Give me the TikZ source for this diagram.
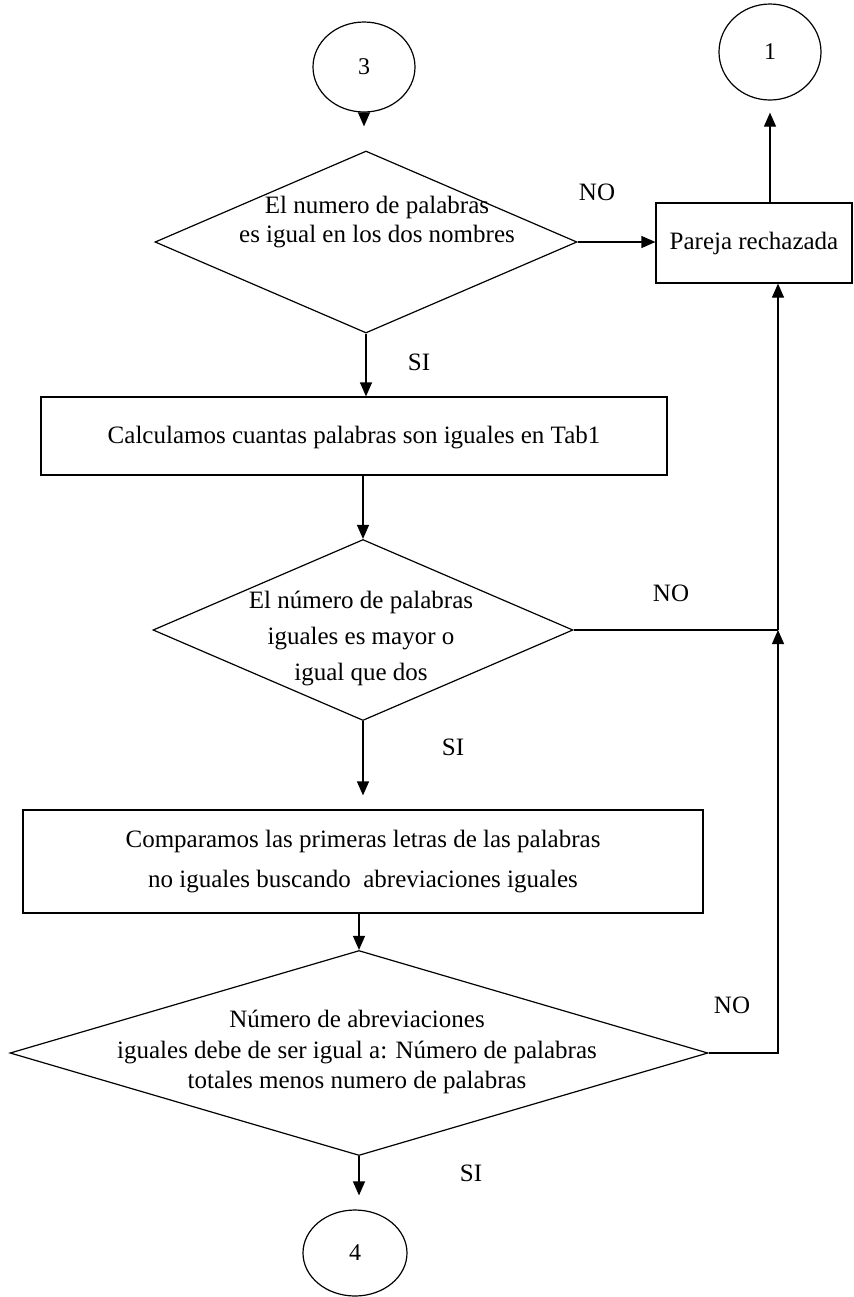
\documentclass[tikz,border=0pt]{standalone}
\usepackage{fontspec}
\setmainfont{Liberation Serif}
\usetikzlibrary{shapes.geometric,arrows.meta}

\begin{document}
\begin{tikzpicture}[x=0.5pt,y=-0.5pt,line width=0.6pt,>={Triangle[length=7pt,width=6pt]}]
  \tikzstyle{conector}=[ellipse,draw,inner sep=0pt,font=\fontsize{12}{14}\selectfont]
  \tikzstyle{proceso}=[rectangle,draw,inner sep=0pt,align=center]
  \tikzstyle{decision}=[diamond,draw,inner sep=0pt]
  \tikzstyle{texto}=[align=center,inner sep=0pt]
  \tikzstyle{etiqueta}=[inner sep=0pt]

  \useasboundingbox (0,0) rectangle (854,1297);
  \fontsize{12.5}{15}\selectfont

  % conectores de pagina
  \foreach \name/\x/\y/\w/\h/\text in {c3/364/67/51/45/3, c1/770/52/51/48/1, c4/355/1253/52/43/4}
    \node[conector,minimum width=\w pt,minimum height=\h pt] (\name) at (\x,\y) {\text};

  % rombos de decision y su texto
  \node[decision,minimum width=211pt,minimum height=91pt] (d1) at (366,242) {};
  \node[texto,font=\fontsize{12.5}{14.5}\selectfont] (t1) at (377,222) {El numero de palabras\\es igual en los dos nombres};
  \node[decision,minimum width=210pt,minimum height=90.5pt] (d2) at (363,630) {};
  \node[texto,font=\fontsize{12.5}{18}\selectfont] (t2) at (361,638) {El número de palabras\\iguales es mayor o\\igual que dos};
  \node[decision,minimum width=349pt,minimum height=102.5pt] (d3) at (359,1053) {};
  \node[texto,font=\fontsize{12.5}{15.25}\selectfont] (t3) at (357,1052) {Número de abreviaciones\\iguales debe de ser igual a: Número de palabras\\totales menos numero de palabras};

  % procesos
  \node[proceso,minimum width=98pt,minimum height=40pt] (rej) at (754,243) {Pareja rechazada};
  \node[proceso,minimum width=313pt,minimum height=39pt,text depth=1pt] (r2) at (354,436) {Calculamos cuantas palabras son iguales en Tab1};
  \node[proceso,minimum width=340pt,minimum height=51.5pt,font=\fontsize{12.5}{20}\selectfont] (r3) at (363,861.5)
    {Comparamos las primeras letras de las palabras\\no iguales buscando\ \ abreviaciones iguales};

  \foreach \name/\x/\y/\text in {no1/597/192/NO, si1/419/362/SI, no2/671/593/NO, si2/453/747/SI, no3/732/1005/NO, si3/471/1173/SI}
    \node[etiqueta] (\name) at (\x,\y) {\text};

  \coordinate (vuelta) at (778,630);

  \draw[->,shorten >=12pt] (c3.south) -- (c3.south |- d1.north);
  \draw[->] (d1.east) -- (d1.east -| rej.west);
  \draw[->,shorten >=6pt] (rej.north -| c1) -- (c1.south);
  \draw[->] (d1.south) -- (d1.south |- r2.north);
  \draw[->] (r2.south -| d2.north) -- (d2.north);
  \draw[->,shorten >=7pt] (d2.south) -- (d2.south |- r3.north);
  \draw[->] (r3.south -| d3.north) -- (d3.north);
  \draw[->,shorten >=7pt] (d3.south) -- (d3.south |- c4.north);
  \draw[->] (d3.east) -- (d3.east -| vuelta) -- (vuelta);
  \draw (d2.east) -- (vuelta);
  \draw[->] (vuelta) -- (vuelta |- rej.south);
\end{tikzpicture}
\end{document}
